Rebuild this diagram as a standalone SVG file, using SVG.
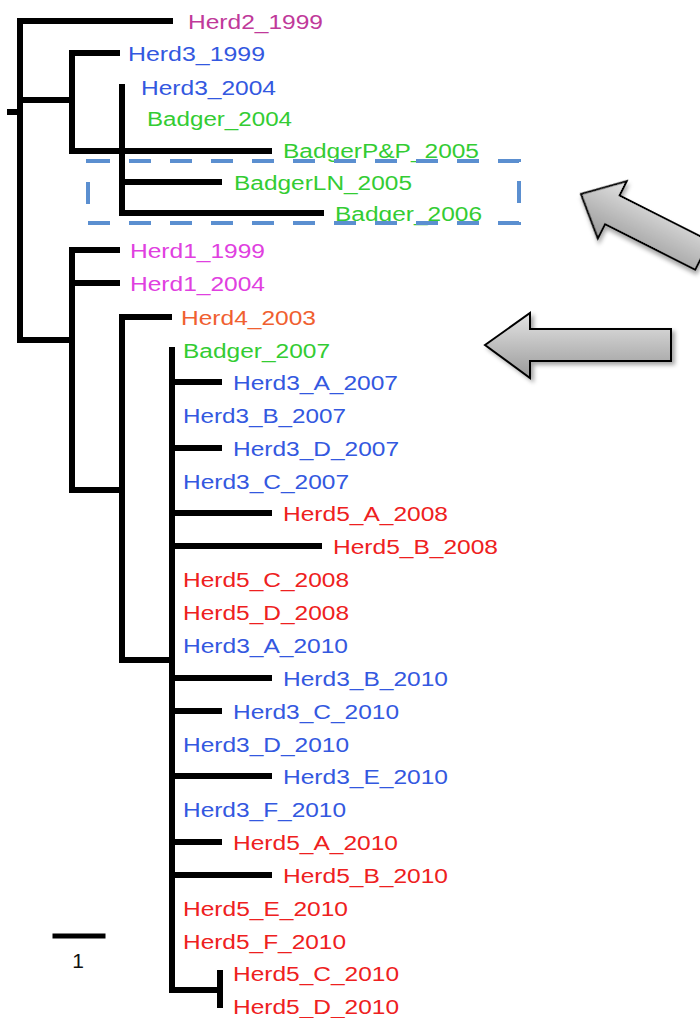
<svg xmlns="http://www.w3.org/2000/svg" width="700" height="1018" viewBox="0 0 700 1018">
<defs>
<style>
.t{font-family:"Liberation Sans",Arial,sans-serif;font-size:20px}
.br{fill:none;stroke:#000;stroke-width:6;stroke-linecap:square}
.h2{fill:#c0399a}.h1{fill:#e040e0}.h3{fill:#3358e0}.bd{fill:#33cc33}.h4{fill:#f06030}.h5{fill:#ee2020}
.arrow{fill:url(#g);stroke:#000;stroke-width:2;filter:url(#sh)}
</style>
<linearGradient id="g" x1="0" y1="0" x2="0" y2="1"><stop offset="0" stop-color="#e4e4e4"/><stop offset="1" stop-color="#9a9a9a"/></linearGradient>
<filter id="sh" x="-20%" y="-20%" width="140%" height="140%"><feDropShadow dx="3" dy="3" stdDeviation="2" flood-color="#000" flood-opacity="0.35"/></filter>
</defs>
<rect width="700" height="1018" fill="#fff"/>
<g id="connectors" class="br">
<path d="M10 112H20M20 21V340M20 21H170M20 100H72M72 53V151M72 53H117M72 151H269M122 87V213M122 182H219M122 213H321"/>
<path d="M20 340H72M72 250V490M72 250H117M72 283H117M72 490H122M122 317V660M122 317H169M122 660H172M172 350V990"/>
<path d="M172 382H219M172 448H219M172 513H269M172 546H319M172 678H269M172 711H219M172 776H269M172 842H219M172 875H269M172 990H219M220 973V1005"/>
<path d="M55 936H103" stroke-width="5"/>
</g>
<g id="tips" transform="translate(0,1)">
<g id="n1"><text class="t h2" x="188" y="28" textLength="135" lengthAdjust="spacingAndGlyphs">Herd2_1999</text></g>
<g id="n2"><text class="t h3" x="128" y="60" textLength="137" lengthAdjust="spacingAndGlyphs">Herd3_1999</text></g>
<g id="n3"><text class="t h3" x="141" y="94" textLength="135" lengthAdjust="spacingAndGlyphs">Herd3_2004</text></g>
<g id="n4"><text class="t bd" x="147" y="125" textLength="145" lengthAdjust="spacingAndGlyphs">Badger_2004</text></g>
<g id="n5"><text class="t bd" x="283" y="157" textLength="196" lengthAdjust="spacingAndGlyphs">BadgerP&amp;P_2005</text></g>
<g id="n6"><text class="t bd" x="234" y="189" textLength="178" lengthAdjust="spacingAndGlyphs">BadgerLN_2005</text></g>
<g id="n7"><text class="t bd" x="335" y="220" textLength="147" lengthAdjust="spacingAndGlyphs">Badger_2006</text></g>
<g id="n8"><text class="t h1" x="130" y="257" textLength="135" lengthAdjust="spacingAndGlyphs">Herd1_1999</text></g>
<g id="n9"><text class="t h1" x="130" y="290" textLength="135" lengthAdjust="spacingAndGlyphs">Herd1_2004</text></g>
<g id="n10"><text class="t h4" x="181" y="324" textLength="135" lengthAdjust="spacingAndGlyphs">Herd4_2003</text></g>
<g id="n11"><text class="t bd" x="183" y="357" textLength="147" lengthAdjust="spacingAndGlyphs">Badger_2007</text></g>
<g id="n12"><text class="t h3" x="233" y="389" textLength="165" lengthAdjust="spacingAndGlyphs">Herd3_A_2007</text></g>
<g id="n13"><text class="t h3" x="183" y="422" textLength="163" lengthAdjust="spacingAndGlyphs">Herd3_B_2007</text></g>
<g id="n14"><text class="t h3" x="233" y="455" textLength="166" lengthAdjust="spacingAndGlyphs">Herd3_D_2007</text></g>
<g id="n15"><text class="t h3" x="183" y="488" textLength="166" lengthAdjust="spacingAndGlyphs">Herd3_C_2007</text></g>
<g id="n16"><text class="t h5" x="283" y="520" textLength="165" lengthAdjust="spacingAndGlyphs">Herd5_A_2008</text></g>
<g id="n17"><text class="t h5" x="333" y="553" textLength="165" lengthAdjust="spacingAndGlyphs">Herd5_B_2008</text></g>
<g id="n18"><text class="t h5" x="183" y="586" textLength="166" lengthAdjust="spacingAndGlyphs">Herd5_C_2008</text></g>
<g id="n19"><text class="t h5" x="183" y="619" textLength="166" lengthAdjust="spacingAndGlyphs">Herd5_D_2008</text></g>
<g id="n20"><text class="t h3" x="183" y="652" textLength="165" lengthAdjust="spacingAndGlyphs">Herd3_A_2010</text></g>
<g id="n21"><text class="t h3" x="283" y="685" textLength="165" lengthAdjust="spacingAndGlyphs">Herd3_B_2010</text></g>
<g id="n22"><text class="t h3" x="233" y="718" textLength="166" lengthAdjust="spacingAndGlyphs">Herd3_C_2010</text></g>
<g id="n23"><text class="t h3" x="183" y="751" textLength="166" lengthAdjust="spacingAndGlyphs">Herd3_D_2010</text></g>
<g id="n24"><text class="t h3" x="283" y="783" textLength="165" lengthAdjust="spacingAndGlyphs">Herd3_E_2010</text></g>
<g id="n25"><text class="t h3" x="183" y="816" textLength="163" lengthAdjust="spacingAndGlyphs">Herd3_F_2010</text></g>
<g id="n26"><text class="t h5" x="233" y="849" textLength="165" lengthAdjust="spacingAndGlyphs">Herd5_A_2010</text></g>
<g id="n27"><text class="t h5" x="283" y="882" textLength="165" lengthAdjust="spacingAndGlyphs">Herd5_B_2010</text></g>
<g id="n28"><text class="t h5" x="183" y="915" textLength="165" lengthAdjust="spacingAndGlyphs">Herd5_E_2010</text></g>
<g id="n29"><text class="t h5" x="183" y="948" textLength="163" lengthAdjust="spacingAndGlyphs">Herd5_F_2010</text></g>
<g id="n30"><text class="t h5" x="233" y="980" textLength="166" lengthAdjust="spacingAndGlyphs">Herd5_C_2010</text></g>
<g id="n31"><text class="t h5" x="233" y="1013" textLength="166" lengthAdjust="spacingAndGlyphs">Herd5_D_2010</text></g>
</g>
<g id="scale"><text x="78" y="968" font-family="Liberation Sans, Arial, sans-serif" font-size="21" text-anchor="middle" fill="#111">1</text></g>
<rect id="highlight" x="88" y="161" width="431" height="62" fill="none" stroke="#5b8fd0" stroke-width="4" stroke-dasharray="22 19"/>
<g id="arrow1"><path class="arrow" transform="translate(581,194) rotate(26.8)" d="M0 0L35 -32V-16H136V16H35V32Z"/></g>
<g id="arrow2"><path class="arrow" d="M485 345L530 313V329H671V361H530V378Z"/></g>
</svg>
